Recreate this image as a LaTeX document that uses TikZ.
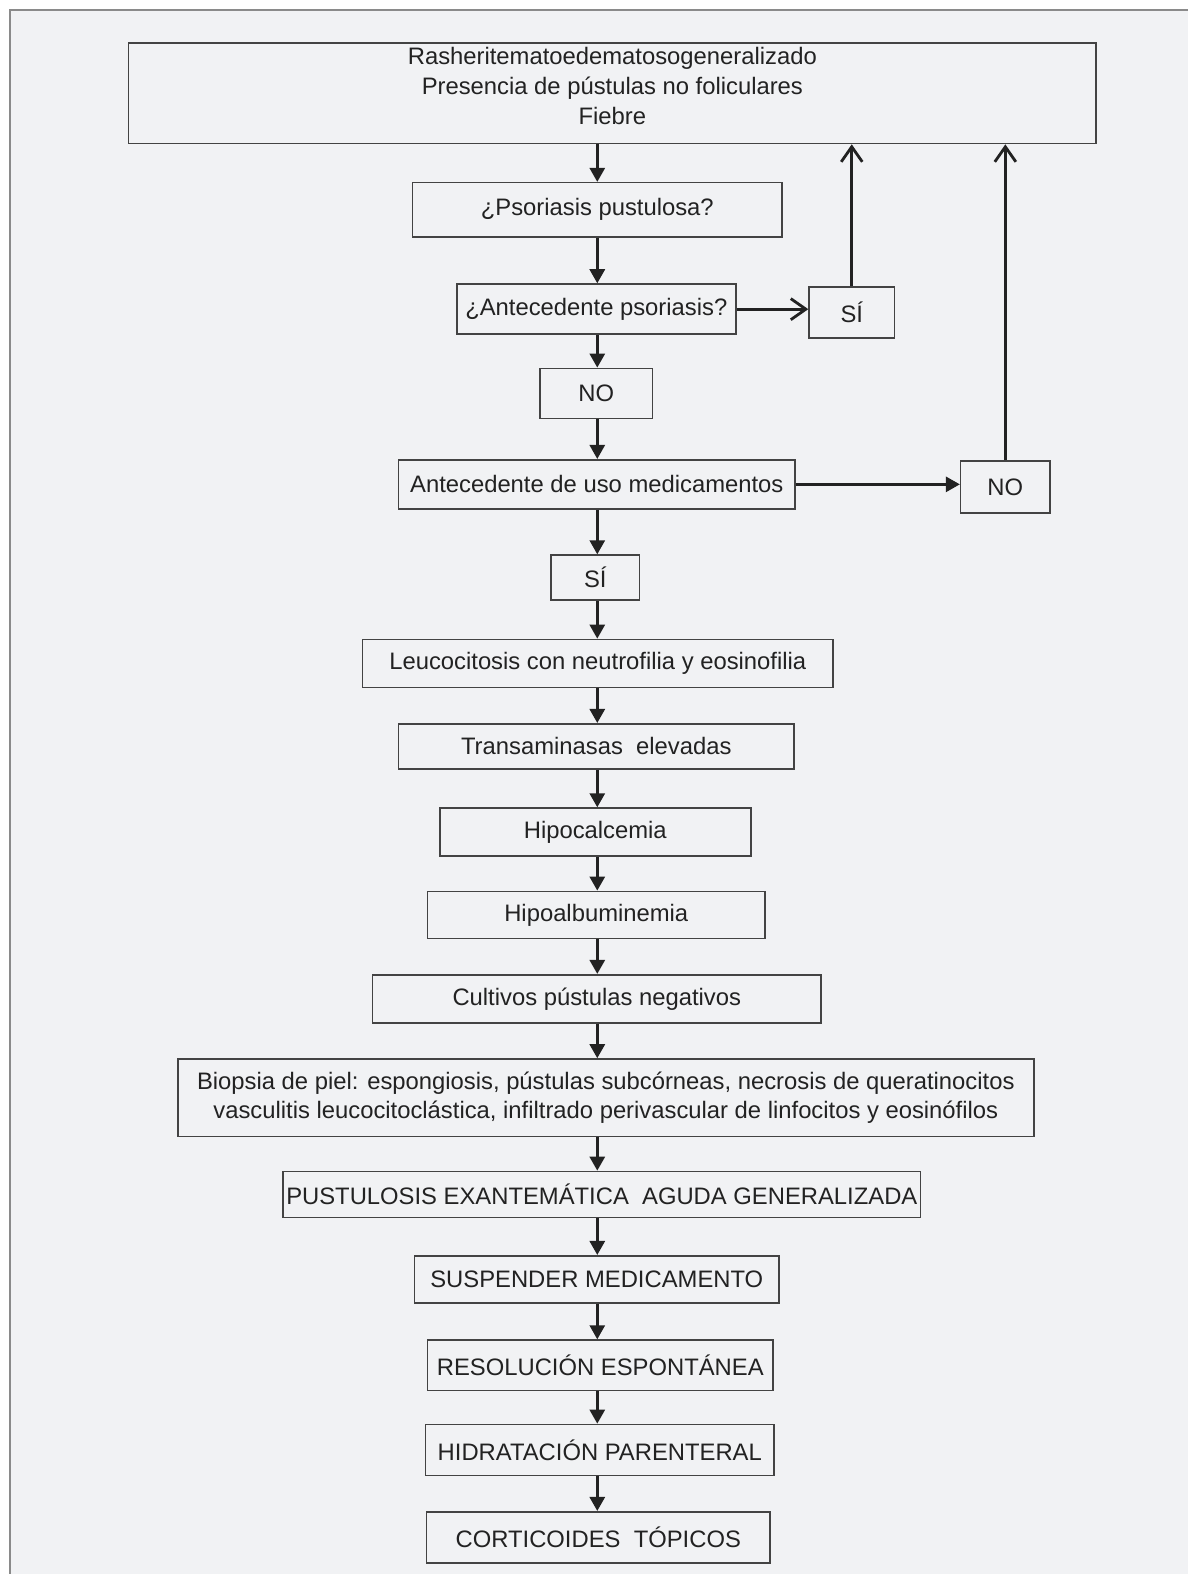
\documentclass[tikz,border=0pt]{standalone}
\usepackage{fontspec}
\setmainfont{Liberation Sans}
\usepackage{xcolor}
\usetikzlibrary{arrows.meta}
\definecolor{paper}{HTML}{F1F2F4}
\definecolor{ink}{HTML}{222222}
\definecolor{frame}{HTML}{8A8A8A}

\begin{document}
\begin{tikzpicture}[
  x=0.02cm, y=-0.02cm,
  box/.style={draw=ink!85, line width=0.9pt, inner sep=0pt, align=center,
              text=ink, font=\fontsize{13.5}{17}\selectfont},
  down/.style={-{Triangle[length=0.28cm, width=0.3cm]}, line width=1.6pt, ink},
  open/.style={-{Straight Barb[length=0.3cm, width=0.42cm]}, line width=1.6pt, ink},
]
  % background and frame
  \useasboundingbox (0,0) rectangle (1183,1568);
  \fill[paper] (10,10) rectangle (1183,1568);
  \draw[frame, line width=1.2pt] (10,1568) -- (10,10) -- (1183,10);

  \node[box, minimum width=19.28cm, minimum height=2cm, text depth=0.3cm] (top) at (610,93)
    {Rasheritematoedematosogeneralizado\\Presencia de pústulas no foliculares\\Fiebre};
  \node[box, minimum width=7.36cm, minimum height=1.08cm] (psor) at (595,209) {¿Psoriasis pustulosa?};
  \node[box, minimum width=5.56cm, minimum height=1cm] (antps) at (594,308) {¿Antecedente psoriasis?};
  \node[box, minimum width=1.7cm, minimum height=1.02cm] (si1) at (848.5,311.5) {SÍ};
  \node[box, minimum width=2.24cm, minimum height=1cm] (no1) at (594,392) {NO};
  \node[box, minimum width=7.9cm, minimum height=0.98cm] (antmed) at (594.5,482.5) {Antecedente de uso medicamentos};
  \node[box, minimum width=1.78cm, minimum height=1.04cm] (no2) at (1001.5,485) {NO};
  \node[box, minimum width=1.76cm, minimum height=0.9cm] (si2) at (593,575.5) {SÍ};
  \node[box, minimum width=9.38cm, minimum height=0.96cm] (leuco) at (595.5,661) {Leucocitosis con neutrofilia y eosinofilia};
  \node[box, minimum width=7.88cm, minimum height=0.9cm] (trans) at (594,743.5) {Transaminasas\ \ elevadas};
  \node[box, minimum width=6.2cm, minimum height=0.96cm] (hipoc) at (593,829) {Hipocalcemia};
  \node[box, minimum width=6.72cm, minimum height=0.94cm] (hipoa) at (594,911.5) {Hipoalbuminemia};
  \node[box, minimum width=8.94cm, minimum height=0.96cm] (cult) at (594.5,995) {Cultivos pústulas negativos};
  \node[box, minimum width=17.06cm, minimum height=1.54cm] (biop) at (603.5,1093.5)
    {Biopsia de piel: espongiosis, pústulas subcórneas, necrosis de queratinocitos\\
     vasculitis leucocitoclástica, infiltrado perivascular de linfocitos y eosinófilos};
  \node[box, minimum width=12.7cm, minimum height=0.92cm] (pust) at (599.5,1190) {PUSTULOSIS EXANTEMÁTICA\ \ AGUDA GENERALIZADA};
  \node[box, minimum width=7.26cm, minimum height=0.94cm] (susp) at (594.5,1274.5) {SUSPENDER MEDICAMENTO};
  \node[box, minimum width=6.88cm, minimum height=1cm] (resol) at (598,1360) {RESOLUCIÓN ESPONTÁNEA};
  \node[box, minimum width=6.94cm, minimum height=1.02cm] (hidra) at (597.5,1444.5) {HIDRATACIÓN PARENTERAL};
  \node[box, minimum width=6.84cm, minimum height=1.02cm] (cort) at (596,1531.5) {CORTICOIDES\ \ TÓPICOS};

  % main spine
  \coordinate (spine) at (595,0);
  \foreach \a/\b in {top/psor, psor/antps, antps/no1, no1/antmed, antmed/si2,
                     si2/leuco, leuco/trans, trans/hipoc, hipoc/hipoa, hipoa/cult,
                     cult/biop, biop/pust, pust/susp, susp/resol, resol/hidra, hidra/cort}
    \draw[down] (\a.south -| spine) -- (\b.north -| spine);

  % side branches
  \draw[open] (antps.east) -- (antps.east -| si1.west);
  \draw[open] (si1.north) -- (si1.north |- top.south);
  \draw[down] (antmed.east) -- (antmed.east -| no2.west);
  \draw[open] (no2.north) -- (no2.north |- top.south);
\end{tikzpicture}
\end{document}
